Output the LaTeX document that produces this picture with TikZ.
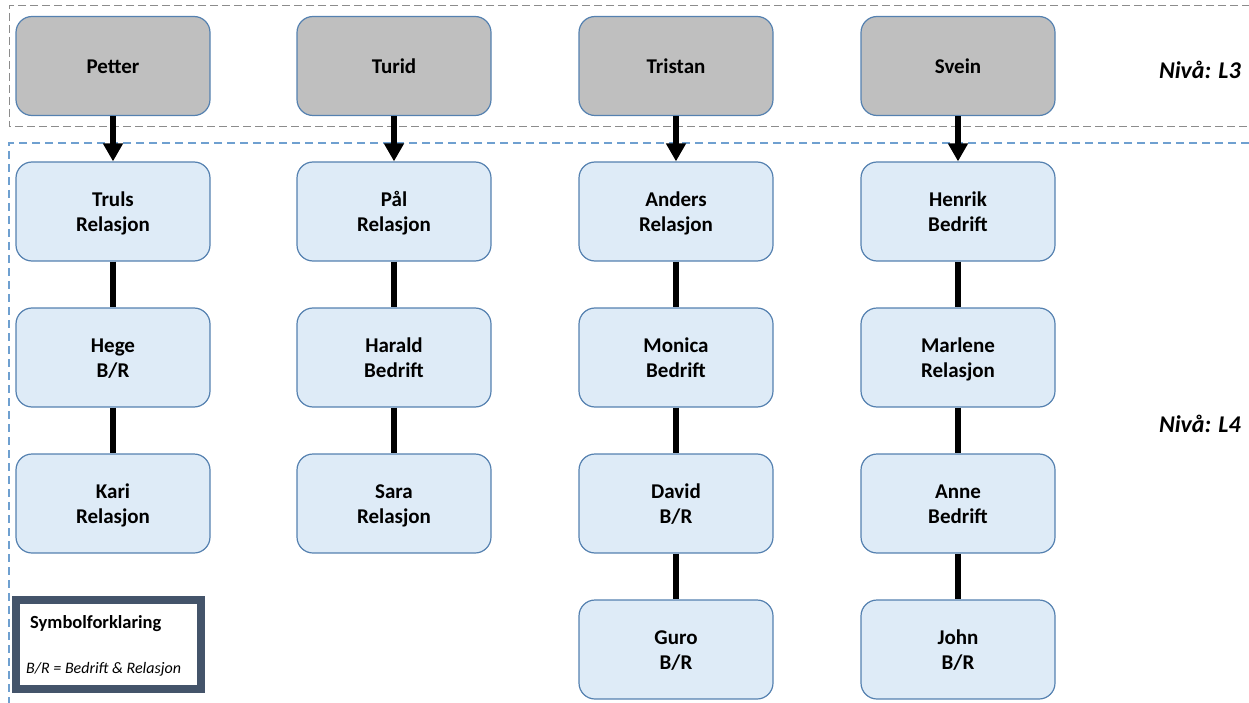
\documentclass[tikz,border=0pt]{standalone}
\usepackage{fontspec}
\setmainfont{Carlito}
\usetikzlibrary{arrows.meta}
\definecolor{boxline}{HTML}{5581B0}
\definecolor{grayfill}{HTML}{BFBFBF}
\definecolor{bluefill}{HTML}{DEEBF7}
\definecolor{graydash}{HTML}{8C8C8C}
\definecolor{bluedash}{HTML}{6FA0D0}
\definecolor{legendline}{HTML}{44546A}
\newcommand\toprl{\rule{0pt}{20pt}}
\newcommand\botrl{\rule[-5pt]{0pt}{5pt}}
\tikzset{
  person/.style={draw=boxline, line width=1.2pt, rounded corners=16pt,
    minimum width=194pt, minimum height=99pt, align=center,
    font=\bfseries\fontsize{21}{25}\selectfont, inner sep=0pt},
  lead/.style={person, fill=grayfill},
  member/.style={person, fill=bluefill},
  link/.style={line width=5.5pt, black},
  down/.style={link, -{Triangle[width=19pt,length=18pt]}},
  levellabel/.style={anchor=east, font=\bfseries\itshape\fontsize{24}{28}\selectfont, inner sep=0pt}
}
\begin{document}
\begin{tikzpicture}[x=1pt,y=-1pt]
\useasboundingbox (0,0) rectangle (1249,703);
\begin{scope}
\clip (0,0) rectangle (1249,703);
\draw[graydash, line width=1pt, dash pattern=on 8pt off 4pt] (1262,6) -- (9,6) -- (9,127) -- (1262,127);
\draw[bluedash, line width=1.2pt, dash pattern=on 8pt off 5pt] (1262,143) -- (9,143) -- (9,715);
\end{scope}

\node[lead] (petter) at (113,66) {\toprl Petter\botrl};
\node[lead] (turid) at (394,66) {\toprl Turid\botrl};
\node[lead] (tristan) at (676,66) {\toprl Tristan\botrl};
\node[lead] (svein) at (958,66) {\toprl Svein\botrl};

\node[member] (truls) at (113,211.5) {\toprl Truls\\Relasjon\botrl};
\node[member] (hege) at (113,357.5) {\toprl Hege\\B/R\botrl};
\node[member] (kari) at (113,503.5) {\toprl Kari\\Relasjon\botrl};

\node[member] (pal) at (394,211.5) {\toprl Pål\\Relasjon\botrl};
\node[member] (harald) at (394,357.5) {\toprl Harald\\Bedrift\botrl};
\node[member] (sara) at (394,503.5) {\toprl Sara\\Relasjon\botrl};

\node[member] (anders) at (676,211.5) {\toprl Anders\\Relasjon\botrl};
\node[member] (monica) at (676,357.5) {\toprl Monica\\Bedrift\botrl};
\node[member] (david) at (676,503.5) {\toprl David\\B/R\botrl};
\node[member] (guro) at (676,649.5) {\toprl Guro\\B/R\botrl};

\node[member] (henrik) at (958,211.5) {\toprl Henrik\\Bedrift\botrl};
\node[member] (marlene) at (958,357.5) {\toprl Marlene\\Relasjon\botrl};
\node[member] (anne) at (958,503.5) {\toprl Anne\\Bedrift\botrl};
\node[member] (john) at (958,649.5) {\toprl John\\B/R\botrl};

\draw[down] (petter) -- (truls);
\draw[down] (turid) -- (pal);
\draw[down] (tristan) -- (anders);
\draw[down] (svein) -- (henrik);

\draw[link] (truls) -- (hege);
\draw[link] (hege) -- (kari);
\draw[link] (pal) -- (harald);
\draw[link] (harald) -- (sara);
\draw[link] (anders) -- (monica);
\draw[link] (monica) -- (david);
\draw[link] (david) -- (guro);
\draw[link] (henrik) -- (marlene);
\draw[link] (marlene) -- (anne);
\draw[link] (anne) -- (john);

\node[levellabel] (l3) at (1241,70) {Nivå: L3};
\node[levellabel] (l4) at (1241,424) {Nivå: L4};

\draw[legendline, line width=8pt] (16,600) rectangle (201,689);
\node[anchor=base west, inner sep=0pt, font=\bfseries\fontsize{18.5}{21}\selectfont] (legtitle) at (30,628) {Symbolforklaring};
\node[anchor=base west, inner sep=0pt, font=\itshape\fontsize{16}{19}\selectfont] (legtext) at (26,673) {B/R = Bedrift \& Relasjon};
\end{tikzpicture}
\end{document}
